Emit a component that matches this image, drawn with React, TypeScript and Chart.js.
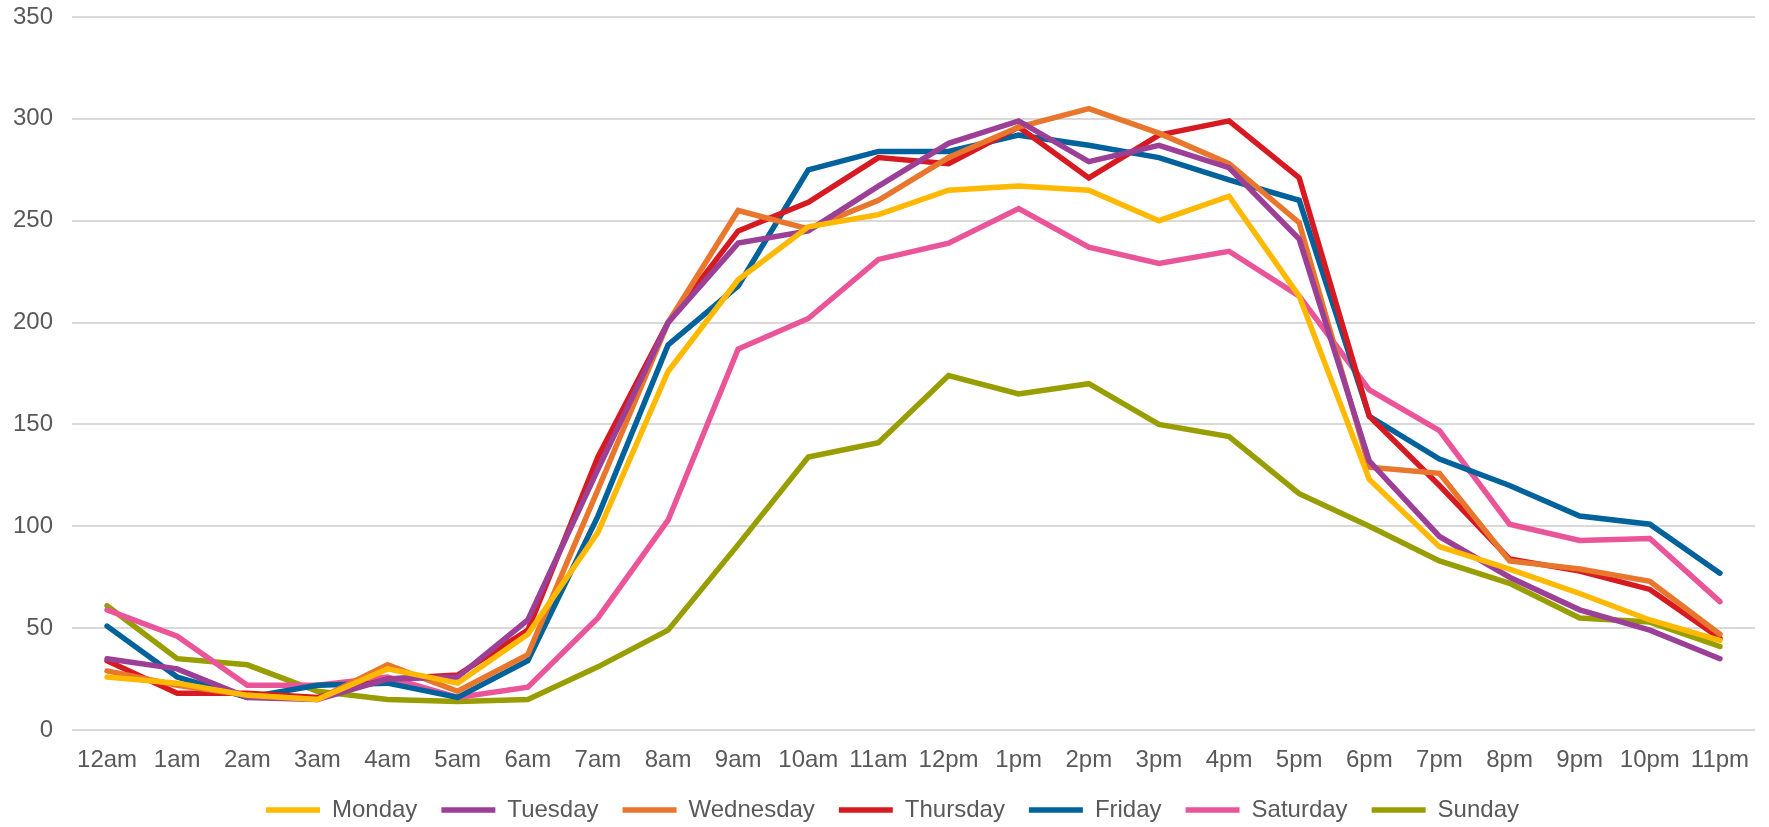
import React, { useEffect, useRef } from "react";
import { Chart, registerables } from "chart.js";

Chart.register(...registerables);

const hours = [
  "12am", "1am", "2am", "3am", "4am", "5am", "6am", "7am", "8am", "9am", "10am", "11am",
  "12pm", "1pm", "2pm", "3pm", "4pm", "5pm", "6pm", "7pm", "8pm", "9pm", "10pm", "11pm",
];

const monday = [26, 23, 17, 15, 30, 23, 47, 97, 176, 221, 247, 253, 265, 267, 265, 250, 262, 213, 123, 90, 79, 67, 54, 44];
const tuesday = [35, 30, 16, 15, 25, 26, 54, 128, 200, 239, 245, 267, 288, 299, 279, 287, 276, 241, 132, 95, 75, 59, 49, 35];
const wednesday = [29, 22, 17, 15, 32, 19, 37, 118, 200, 255, 246, 260, 281, 296, 305, 293, 278, 249, 129, 126, 83, 79, 73, 47];
const thursday = [34, 18, 18, 16, 25, 27, 49, 134, 200, 245, 259, 281, 278, 296, 271, 292, 299, 271, 154, 120, 84, 78, 69, 45];
const friday = [51, 26, 16, 22, 23, 16, 34, 105, 189, 218, 275, 284, 284, 292, 287, 281, 270, 260, 154, 133, 120, 105, 101, 77];
const saturday = [59, 46, 22, 22, 26, 16, 21, 55, 103, 187, 202, 231, 239, 256, 237, 229, 235, 213, 167, 147, 101, 93, 94, 63];
const sunday = [61, 35, 32, 19, 15, 14, 15, 31, 49, 91, 134, 141, 174, 165, 170, 150, 144, 116, 100, 83, 72, 55, 53, 41];

const seriesNames = ["Monday", "Tuesday", "Wednesday", "Thursday", "Friday", "Saturday", "Sunday"];
const seriesValues = [monday, tuesday, wednesday, thursday, friday, saturday, sunday];
const seriesColors = ["#FFB900", "#9B3F97", "#E8762D", "#D71A21", "#00629B", "#EA5599", "#989D00"];

const yTicks = [0, 50, 100, 150, 200, 250, 300, 350];

const legendShift = {
  id: "legendShift",
  afterLayout(chart: any) {
    const lg = chart.legend;
    if (lg) {
      lg.left += 15;
      lg.right += 15;
    }
  },
};

export default function App() {
  const canvasRef = useRef<HTMLCanvasElement | null>(null);

  useEffect(() => {
    document.body.style.margin = "0";
    const canvas = canvasRef.current;
    if (!canvas) return;
    const font = "'Liberation Sans', Arial, sans-serif";
    const chart = new Chart(canvas, {
      type: "line",
      data: {
        labels: hours,
        datasets: seriesNames.map((name, i) => ({
          label: name,
          data: seriesValues[i],
          borderColor: seriesColors[i],
          backgroundColor: seriesColors[i],
          borderWidth: 5.5,
          borderCapStyle: "round" as const,
          borderJoinStyle: "miter" as const,
          pointRadius: 0,
          pointHoverRadius: 0,
          tension: 0,
          fill: false,
        })),
      },
      plugins: [legendShift],
      options: {
        animation: false,
        responsive: false,
        maintainAspectRatio: false,
        layout: { padding: { top: 17, right: 14, left: 0, bottom: -5 } },
        plugins: {
          tooltip: { enabled: false },
          legend: {
            position: "bottom",
            labels: {
              usePointStyle: true,
              pointStyle: "line",
              pointStyleWidth: 54,
              boxHeight: 24,
              padding: 24,
              color: "#595959",
              font: { family: font, size: 24 },
            },
          },
        },
        scales: {
          x: {
            offset: true,
            grid: { display: false, drawTicks: false },
            border: { display: false },
            ticks: {
              color: "#595959",
              font: { family: font, size: 24 },
              padding: 16,
              maxRotation: 0,
              autoSkip: false,
            },
            afterFit: (scale: any) => {
              scale.height = 44;
            },
          },
          y: {
            min: 0,
            max: 350,
            grid: { color: "#d9d9d9", lineWidth: 2, drawTicks: false },
            border: { display: false },
            afterBuildTicks: (scale: any) => {
              scale.ticks = yTicks.map((v) => ({ value: v }));
            },
            ticks: {
              color: "#595959",
              font: { family: font, size: 24 },
              padding: 19,
            },
            afterFit: (scale: any) => {
              scale.width = 72;
              scale.paddingTop = 0;
              scale.paddingBottom = 0;
            },
          },
        },
      },
    });
    return () => chart.destroy();
  }, []);

  return (
    <div style={{ width: 1769, height: 827, position: "relative" }}>
      <canvas ref={canvasRef} width={1769} height={827} style={{ width: 1769, height: 827, display: "block" }} />
    </div>
  );
}
